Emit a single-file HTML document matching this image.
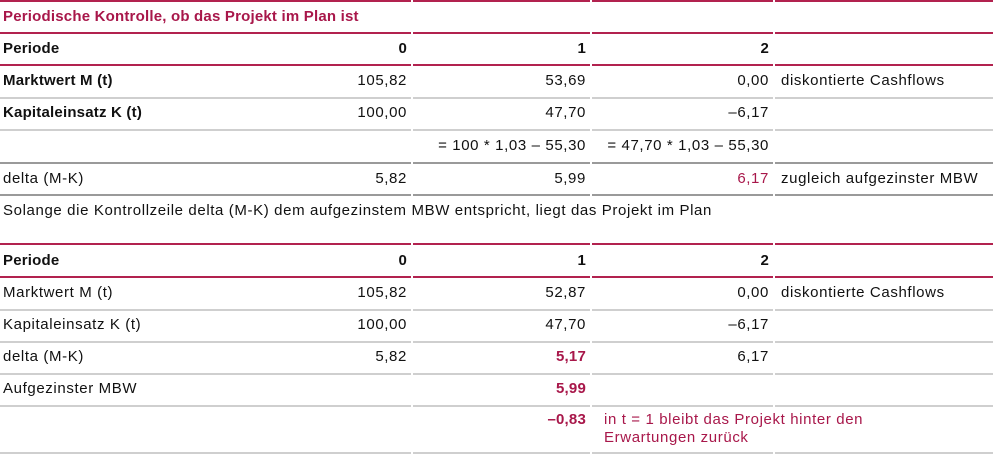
<!DOCTYPE html>
<html><head><meta charset="utf-8"><style>
body{margin:0;width:993px;height:454px;background:#fff;position:relative;overflow:hidden;font-family:"Liberation Sans",sans-serif;font-size:15px;color:#111;letter-spacing:0.62px}
.l{position:absolute;height:2px}
.t{position:absolute;white-space:nowrap;line-height:18px}
.r{text-align:right}
.b{font-weight:bold;letter-spacing:0.2px}
.c{color:#a8174a}
</style></head><body>
<div id="root"></div>
<script>
var H='';
var segs=[[0,411],[413,590],[592,773],[775,993]];
function line(y,col,h){segs.forEach(function(s){H+='<div class="l" style="top:'+y+'px;left:'+s[0]+'px;width:'+(s[1]-s[0])+'px;background:'+col+';height:'+(h||2)+'px"></div>';});}
var R='#b2224f',G='#cfcfcf',D='#9a9a9a';
line(0,R);line(32,R);line(64,R);line(97,G);line(129,G);line(162,D,2);line(194,D,2);
line(243,R);line(276,R);line(309,G);line(341,G);line(373,G);line(405,G);line(452,G);
function t(x,y,s,cls){H+='<div class="t '+(cls||'')+'" style="left:'+x+'px;top:'+(y-9)+'px">'+s+'</div>';}
function r(x,y,s,cls){H+='<div class="t r '+(cls||'')+'" style="right:'+(993-x)+'px;top:'+(y-9)+'px">'+s+'</div>';}
t(3,17,'Periodische Kontrolle, ob das Projekt im Plan ist','b c');
function row(y,lab,a,b,c,note,lc,ac,bc,cc){t(3,y,lab,lc);if(a)r(407,y,a,ac);if(b)r(586,y,b,bc);if(c)r(769,y,c,cc);if(note)t(781,y,note);}
row(49,'Periode','0','1','2','', 'b','b','b','b');
row(81,'Marktwert M (t)','105,82','53,69','0,00','diskontierte Cashflows','b');
row(113,'Kapitaleinsatz K (t)','100,00','47,70','\u20136,17','','b');
row(146,'','','= 100 * 1,03 \u2013 55,30','= 47,70 * 1,03 \u2013 55,30','');
row(179,'delta (M-K)','5,82','5,99','6,17','zugleich aufgezinster MBW','','','','c');
t(3,211,'Solange die Kontrollzeile delta (M-K) dem aufgezinstem MBW entspricht, liegt das Projekt im Plan');
row(261,'Periode','0','1','2','','b','b','b','b');
row(293,'Marktwert M (t)','105,82','52,87','0,00','diskontierte Cashflows');
row(325,'Kapitaleinsatz K (t)','100,00','47,70','\u20136,17','');
row(357,'delta (M-K)','5,82','5,17','6,17','','','','b c');
row(389,'Aufgezinster MBW','','5,99','','','','','b c');
row(420,'','','\u20130,83','','','','','b c');
t(604,420,'in t = 1 bleibt das Projekt hinter den','c');
t(604,438,'Erwartungen zur\u00fcck','c');
document.getElementById('root').innerHTML=H;
</script>
</body></html>
